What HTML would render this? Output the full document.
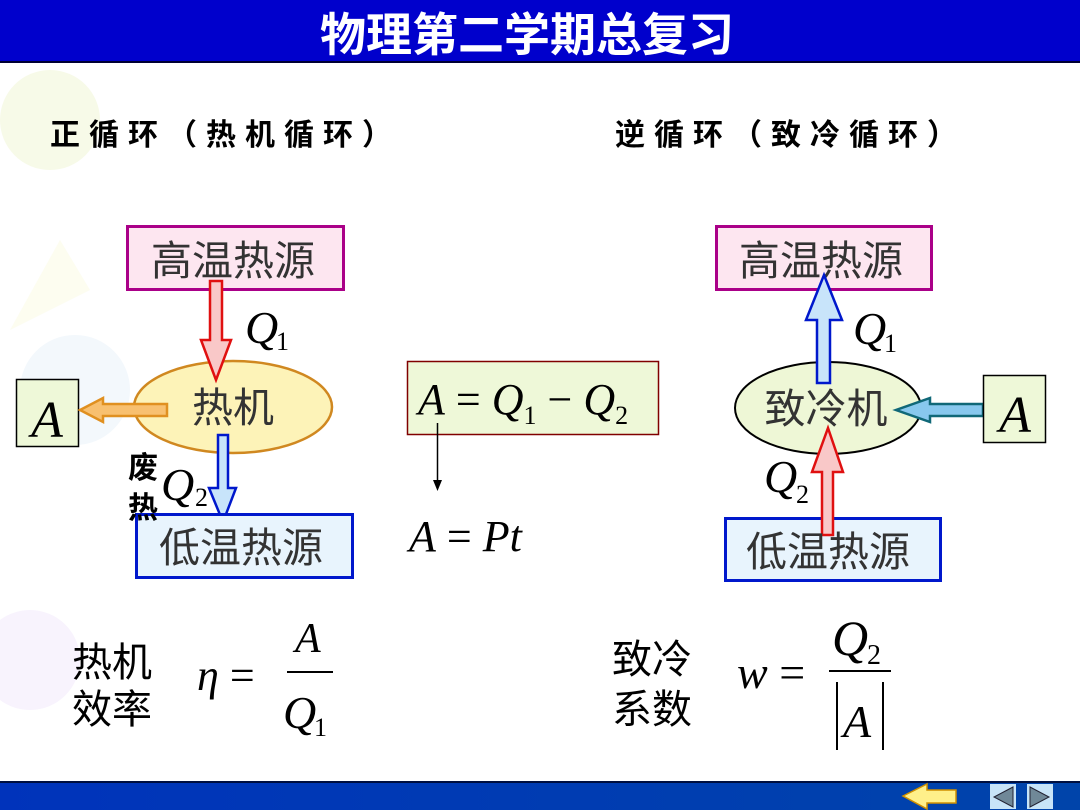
<!DOCTYPE html>
<html><head><meta charset="utf-8"><style>
html,body{margin:0;padding:0;width:1080px;height:810px;overflow:hidden;background:#fff}
svg{display:block}
.cjk{font-family:"Liberation Sans","Noto Sans CJK SC",sans-serif}
.ser{font-family:"Liberation Serif","Noto Serif CJK SC",serif;font-style:italic}
</style></head><body>
<svg width="1080" height="810" viewBox="0 0 1080 810" xmlns="http://www.w3.org/2000/svg">
<defs>
<linearGradient id="bot" x1="0" x2="1" y1="0" y2="0"><stop offset="0" stop-color="#0033bb"/><stop offset="1" stop-color="#0044aa"/></linearGradient>
</defs>
<!-- faint decoration -->
<circle cx="50" cy="120" r="50" fill="#f7fae8"/>
<circle cx="75" cy="390" r="55" fill="#f3f8fc"/>
<circle cx="30" cy="660" r="50" fill="#f8f3fd"/>
<path d="M10 330 L60 240 L90 290 Z" fill="#fdfdf0"/>
<!-- title bar -->
<rect x="0" y="0" width="1080" height="63" fill="#0000cc"/>
<rect x="0" y="61" width="1080" height="2" fill="#000033"/>
<text x="527" y="51" text-anchor="middle" class="cjk" font-size="46" font-weight="bold" fill="#fff">物理第二学期总复习</text>
<!-- headings -->
<text x="50" y="145" class="cjk" font-size="30" font-weight="bold" letter-spacing="9" fill="#000">正循环（热机循环）</text>
<text x="615" y="145" class="cjk" font-size="30" font-weight="bold" letter-spacing="9" fill="#000">逆循环（致冷循环）</text>

<!-- LEFT diagram -->
<rect x="127.5" y="226.5" width="216" height="63" fill="#fde6f0" stroke="#aa0088" stroke-width="3"/>
<text x="233" y="275" text-anchor="middle" class="cjk" font-size="41" fill="#333">高温热源</text>
<ellipse cx="233" cy="407" rx="99" ry="46" fill="#fdf3b8" stroke="#d08820" stroke-width="2.5"/>
<text x="233" y="422" text-anchor="middle" class="cjk" font-size="41" fill="#333">热机</text>
<rect x="16.5" y="379.5" width="62" height="67" fill="#eef8d8" stroke="#000" stroke-width="1.5"/>
<text x="47" y="437" text-anchor="middle" class="ser" font-size="52" fill="#000">A</text>
<path d="M210 281 H222 V340 H231 L216 380 L201 340 H210 Z" fill="#f9c8c8" stroke="#e01010" stroke-width="2.5"/>
<path d="M167 404 V416 H103 V422 L80 410 L103 398 V404 Z" fill="#f8c070" stroke="#e09020" stroke-width="2.5"/>
<path d="M218 435 H228 V488 H236 L223 522 L209 488 H218 Z" fill="#c8e4fa" stroke="#0018cc" stroke-width="2.5"/>
<rect x="136.5" y="514.5" width="216" height="63" fill="#e8f4fd" stroke="#0018cc" stroke-width="3"/>
<text x="241" y="562" text-anchor="middle" class="cjk" font-size="41" fill="#333">低温热源</text>
<text x="245" y="343" class="ser" font-size="46" fill="#000">Q</text><text x="276" y="350" font-family="Liberation Serif,serif" font-size="26">1</text>
<text x="128" y="478" class="cjk" font-size="30" font-weight="bold" fill="#000">废</text>
<text x="128" y="518" class="cjk" font-size="30" font-weight="bold" fill="#000">热</text>
<text x="161" y="500" class="ser" font-size="46" fill="#000">Q</text><text x="195" y="506" font-family="Liberation Serif,serif" font-size="26">2</text>

<!-- middle formula -->
<rect x="407.5" y="361.5" width="251" height="73" fill="#eef8d8" stroke="#800000" stroke-width="1.5"/>
<text x="418" y="414" font-family="Liberation Serif,serif" font-size="44" fill="#000"><tspan font-style="italic">A</tspan> = <tspan font-style="italic">Q</tspan><tspan font-size="26" dy="10">1</tspan><tspan dy="-10"> − </tspan><tspan font-style="italic">Q</tspan><tspan font-size="26" dy="10">2</tspan></text>
<line x1="437.5" y1="423" x2="437.5" y2="482" stroke="#000" stroke-width="1.5"/>
<path d="M433 480 L442 480 L437.5 491 Z" fill="#000"/>
<text x="409" y="551" font-family="Liberation Serif,serif" font-size="44" fill="#000"><tspan font-style="italic">A</tspan> = <tspan font-style="italic">Pt</tspan></text>

<!-- RIGHT diagram -->
<rect x="716.5" y="226.5" width="215" height="63" fill="#fde6f0" stroke="#aa0088" stroke-width="3"/>
<text x="821" y="275" text-anchor="middle" class="cjk" font-size="41" fill="#333">高温热源</text>
<ellipse cx="828" cy="408" rx="93" ry="46" fill="#eef7d6" stroke="#000" stroke-width="2"/>
<text x="826" y="423" text-anchor="middle" class="cjk" font-size="41" fill="#333">致冷机</text>
<path d="M817 383 V320 H806 L824 275 L842 320 H830 V383 Z" fill="#c8e4fa" stroke="#0018cc" stroke-width="2.5"/>
<path d="M983 404 V416 H930 V422 L896 410 L930 398 V404 Z" fill="#88c8ee" stroke="#106878" stroke-width="2.5"/>
<rect x="983.5" y="375.5" width="62" height="67" fill="#eef8d8" stroke="#000" stroke-width="1.5"/>
<text x="1015" y="432" text-anchor="middle" class="ser" font-size="52" fill="#000">A</text>
<rect x="725.5" y="518.5" width="215" height="62" fill="#e8f4fd" stroke="#0018cc" stroke-width="3"/>
<path d="M822 535 V472 H812 L828 428 L843 472 H833 V535 Z" fill="#f9c8c8" stroke="#e01010" stroke-width="2.5"/>
<text x="828" y="566" text-anchor="middle" class="cjk" font-size="41" fill="#333">低温热源</text>
<text x="853" y="344" class="ser" font-size="46" fill="#000">Q</text><text x="884" y="352" font-family="Liberation Serif,serif" font-size="26">1</text>
<text x="764" y="492" class="ser" font-size="46" fill="#000">Q</text><text x="796" y="503" font-family="Liberation Serif,serif" font-size="26">2</text>

<!-- bottom formulas -->
<text x="72" y="676" class="cjk" font-size="40" fill="#000">热机</text>
<text x="72" y="723" class="cjk" font-size="40" fill="#000">效率</text>
<text x="197" y="690" font-family="Liberation Serif,serif" font-size="44" fill="#000"><tspan font-style="italic">η</tspan> =</text>
<text x="295" y="652" font-family="Liberation Serif,serif" font-style="italic" font-size="42" fill="#000">A</text>
<rect x="287" y="671" width="46" height="2" fill="#000"/>
<text x="283" y="728" font-family="Liberation Serif,serif" font-style="italic" font-size="46" fill="#000">Q</text><text x="314" y="736" font-family="Liberation Serif,serif" font-size="26">1</text>

<text x="612" y="673" class="cjk" font-size="40" fill="#000">致冷</text>
<text x="612" y="723" class="cjk" font-size="40" fill="#000">系数</text>
<text x="737" y="688" font-family="Liberation Serif,serif" font-size="46" fill="#000"><tspan font-style="italic">w</tspan> =</text>
<text x="832" y="655" font-family="Liberation Serif,serif" font-style="italic" font-size="50" fill="#000">Q</text><text x="867" y="664" font-family="Liberation Serif,serif" font-size="28">2</text>
<rect x="829" y="670" width="62" height="2" fill="#000"/>
<rect x="836" y="682" width="2" height="68" fill="#000"/>
<rect x="882" y="682" width="2" height="68" fill="#000"/>
<text x="843" y="737" font-family="Liberation Serif,serif" font-style="italic" font-size="46" fill="#000">A</text>

<!-- bottom bar -->
<rect x="0" y="782" width="1080" height="28" fill="url(#bot)"/>
<rect x="0" y="781" width="1080" height="2" fill="#001040"/>
<path d="M903 796 L927 784 V790 H956 V803 H927 V809 Z" fill="#fff08a" stroke="#d09000" stroke-width="1.5"/>
<rect x="990" y="784" width="26" height="25" fill="#c8e4f8"/>
<path d="M1013 787 L994 797 L1013 807 Z" fill="#708898" stroke="#223" stroke-width="1"/>
<rect x="1027" y="784" width="26" height="25" fill="#c8e4f8"/>
<path d="M1030 787 L1049 797 L1030 807 Z" fill="#708898" stroke="#223" stroke-width="1"/>
</svg>
</body></html>
